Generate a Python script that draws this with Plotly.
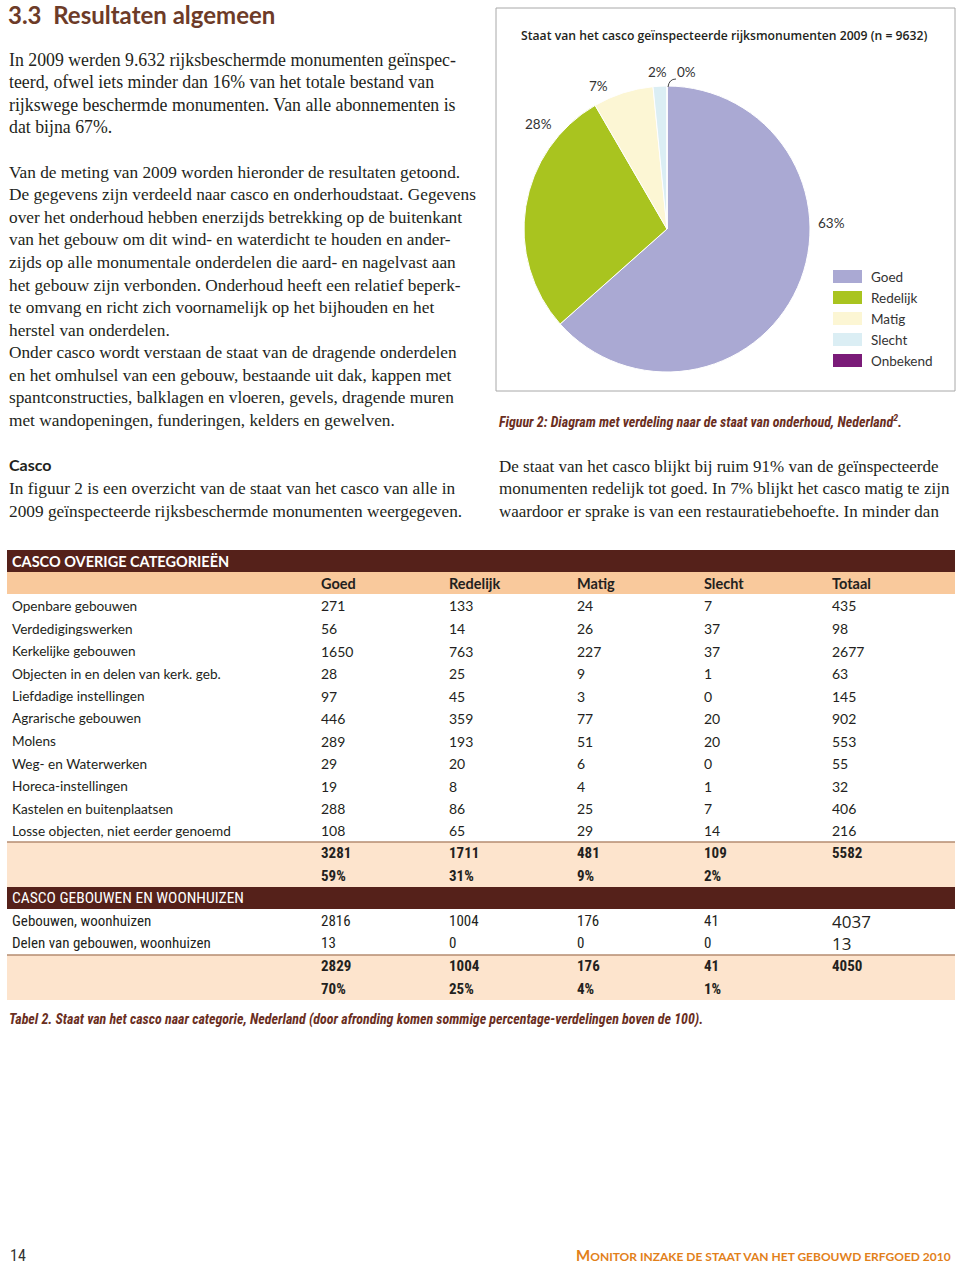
import plotly.graph_objects as go

W, H = 960, 1266

# ---------------- data ----------------
pie_labels = ["Goed", "Redelijk", "Matig", "Slecht", "Onbekend"]
pie_values = [6110, 2715, 657, 150, 0]
pie_colors = ["#aaa9d3", "#a9c41f", "#fcf6d4", "#dbeef4", "#7a1b78"]

columns = ["Goed", "Redelijk", "Matig", "Slecht", "Totaal"]

cat_overig = ["Openbare gebouwen", "Verdedigingswerken", "Kerkelijke gebouwen",
              "Objecten in en delen van kerk. geb.", "Liefdadige instellingen",
              "Agrarische gebouwen", "Molens", "Weg- en Waterwerken",
              "Horeca-instellingen", "Kastelen en buitenplaatsen",
              "Losse objecten, niet eerder genoemd"]
ov_goed = [271, 56, 1650, 28, 97, 446, 289, 29, 19, 288, 108]
ov_redelijk = [133, 14, 763, 25, 45, 359, 193, 20, 8, 86, 65]
ov_matig = [24, 26, 227, 9, 3, 77, 51, 6, 4, 25, 29]
ov_slecht = [7, 37, 37, 1, 0, 20, 20, 0, 1, 7, 14]
ov_totaal = [435, 98, 2677, 63, 145, 902, 553, 55, 32, 406, 216]
ov_sum = [3281, 1711, 481, 109, 5582]
ov_pct = ["59%", "31%", "9%", "2%", ""]

cat_geb = ["Gebouwen, woonhuizen", "Delen van gebouwen, woonhuizen"]
gb_goed = [2816, 13]
gb_redelijk = [1004, 0]
gb_matig = [176, 0]
gb_slecht = [41, 0]
gb_totaal = [4037, 13]
gb_sum = [2829, 1004, 176, 41, 4050]
gb_pct = ["70%", "25%", "4%", "1%", ""]

# ---------------- helpers ----------------
def px(x):
    return x / W


def py(y):
    return 1 - y / H


SERIF = "Liberation Serif, DejaVu Serif, serif"
SANS = "Lato, Open Sans, sans-serif"
OPEN = "Open Sans, Noto Sans, sans-serif"
NARROW = "Liberation Sans Narrow, Roboto Condensed, Liberation Sans, sans-serif"
TXT = "#231f20"
BROWN = "#6b2f1f"

annotations = []
shapes = []


def text(x, y, s, size=16, family=SERIF, color=TXT, weight=400, anchor="left", italic=False):
    annotations.append(dict(
        x=px(x), y=py(y), xref="paper", yref="paper", text=s, showarrow=False,
        xanchor=anchor, yanchor="middle", align=anchor,
        font=dict(size=size, family=family, color=color, weight=weight,
                  style="italic" if italic else "normal"),
    ))


def rect(x0, y0, x1, y1, fill, line=None, lw=0):
    shapes.append(dict(type="rect", xref="paper", yref="paper",
                       x0=px(x0), x1=px(x1), y0=py(y1), y1=py(y0),
                       fillcolor=fill, line=dict(color=line or fill, width=lw),
                       layer="below"))


def hline(x0, x1, y, color, w=1):
    shapes.append(dict(type="line", xref="paper", yref="paper",
                       x0=px(x0), x1=px(x1), y0=py(y), y1=py(y),
                       line=dict(color=color, width=w)))


# ---------------- left column text ----------------
text(6, 14, "3.3  Resultaten algemeen", size=24, family=SANS, color="#6d3b28", weight=700)

para1 = ["In 2009 werden 9.632 rijksbeschermde monumenten geïnspec-",
         "teerd, ofwel iets minder dan 16% van het totale bestand van",
         "rijkswege beschermde monumenten. Van alle abonnementen is",
         "dat bijna 67%."]
for i, s in enumerate(para1):
    text(7, 60 + i * 22.5, s, size=17.8)

para2 = ["Van de meting van 2009 worden hieronder de resultaten getoond.",
         "De gegevens zijn verdeeld naar casco en onderhoudstaat. Gegevens",
         "over het onderhoud hebben enerzijds betrekking op de buitenkant",
         "van het gebouw om dit wind- en waterdicht te houden en ander-",
         "zijds op alle monumentale onderdelen die aard- en nagelvast aan",
         "het gebouw zijn verbonden. Onderhoud heeft een relatief beperk-",
         "te omvang en richt zich voornamelijk op het bijhouden en het",
         "herstel van onderdelen.",
         "Onder casco wordt verstaan de staat van de dragende onderdelen",
         "en het omhulsel van een gebouw, bestaande uit dak, kappen met",
         "spantconstructies, balklagen en vloeren, gevels, dragende muren",
         "met wandopeningen, funderingen, kelders en gewelven."]
for i, s in enumerate(para2):
    text(7, 172.5 + i * 22.5, s, size=17.3)

text(7, 465, "Casco", size=16, family=SANS, weight=700)
text(7, 488, "In figuur 2 is een overzicht van de staat van het casco van alle in", size=17.3)
text(7, 511, "2009 geïnspecteerde rijksbeschermde monumenten weergegeven.", size=17.3)

right = ["De staat van het casco blijkt bij ruim 91% van de geïnspecteerde",
         "monumenten redelijk tot goed. In 7% blijkt het casco matig te zijn",
         "waardoor er sprake is van een restauratiebehoefte. In minder dan"]
for i, s in enumerate(right):
    text(497, 466 + i * 22.5, s, size=17)

# ---------------- pie chart box ----------------
rect(496, 8, 955, 391, "rgba(0,0,0,0)", line="#a8a8a8", lw=1)
text(724, 36, "Staat van het casco geïnspecteerde rijksmonumenten 2009 (n = 9632)",
     size=12.2, family=OPEN, weight=600, anchor="center")

total = sum(pie_values)
pct_text = [f"{round(v / total * 100)}%" for v in pie_values]
label_pos = [(831, 223), (538, 124), (598, 86), (657, 72), (686, 72)]
for (lx, ly), t in zip(label_pos, pct_text):
    text(lx, ly, t, size=13.5, family=SANS, color="#333333", anchor="center")
# leader line for the 0% label
shapes.append(dict(type="path", xref="paper", yref="paper",
                   path=f"M {px(668)},{py(87)} Q {px(669)},{py(79)} {px(676)},{py(79)}",
                   line=dict(color="#444444", width=1)))

leg_y = [277, 298, 319, 340, 361]
for lbl, col, yy in zip(pie_labels, pie_colors, leg_y):
    rect(833, yy - 7, 862, yy + 6, col)
    text(869, yy, lbl, size=13.5, family=SANS, color="#333333")

text(497, 421, "Figuur 2: Diagram met verdeling naar de staat van onderhoud, Nederland<sup>2</sup>.",
     size=14, family=NARROW, color=BROWN, weight=700, italic=True)

# ---------------- table ----------------
col_x = [319, 447, 575, 702, 830]
DARK = "#55211a"
PEACH = "#f9c99c"
LIGHT = "#fde4cd"
LINE = "#b48d70"

rect(7, 550, 955, 572, DARK)
text(10, 561, "CASCO OVERIGE CATEGORIEËN", size=14.5, family=SANS, color="white", weight=700)
rect(7, 572, 955, 594, PEACH)
for x, c in zip(col_x, columns):
    text(x, 583, c, size=14.5, family=SANS, weight=700)

rows1 = list(zip(cat_overig, ov_goed, ov_redelijk, ov_matig, ov_slecht, ov_totaal))
for i, r in enumerate(rows1):
    y = 606 + i * 22.5
    text(10, y, r[0], size=13.6, family=SANS)
    for x, v in zip(col_x, r[1:]):
        text(x, y, str(v), size=14, family=SANS)

rect(7, 842, 955, 887, LIGHT)
hline(7, 955, 842, LINE, 1.5)
for x, v, p in zip(col_x, ov_sum, ov_pct):
    text(x, 853, str(v), size=15, family=NARROW, weight=700)
    if p:
        text(x, 876, p, size=15, family=NARROW, weight=700)

rect(7, 887, 955, 909, DARK)
text(10, 898, "CASCO GEBOUWEN EN WOONHUIZEN", size=15.5, family=NARROW, color="white", weight=400)

rows2 = list(zip(cat_geb, gb_goed, gb_redelijk, gb_matig, gb_slecht, gb_totaal))
for i, r in enumerate(rows2):
    y = 921 + i * 22.5
    text(10, y, r[0], size=15, family=NARROW)
    for j, (x, v) in enumerate(zip(col_x, r[1:])):
        if j == 4:
            text(x, y, str(v), size=17, family=OPEN)
        else:
            text(x, y, str(v), size=15, family=NARROW)

rect(7, 955, 955, 1000, LIGHT)
hline(7, 955, 955, LINE, 1.5)
for x, v, p in zip(col_x, gb_sum, gb_pct):
    text(x, 966, str(v), size=15, family=NARROW, weight=700)
    if p:
        text(x, 989, p, size=15, family=NARROW, weight=700)

text(7, 1019, "Tabel 2. Staat van het casco naar categorie, Nederland (door afronding komen sommige percentage-verdelingen boven de 100).",
     size=14, family=NARROW, color=BROWN, weight=700, italic=True)

# ---------------- footer ----------------
text(8, 1255, "14", size=16, family=NARROW, color="#333333")
text(953, 1255, "<span style='font-size:15px'>M</span>ONITOR INZAKE DE STAAT VAN HET GEBOUWD ERFGOED 2010",
     size=12, family=SANS, color="#e2801a", weight=700, anchor="right")

# ---------------- figure ----------------
cx, cy, r = 667, 229, 143
fig = go.Figure(go.Pie(
    labels=pie_labels, values=pie_values, sort=False, direction="clockwise",
    rotation=0, marker=dict(colors=pie_colors, line=dict(color="white", width=1)),
    textinfo="none", hoverinfo="label+value+percent", showlegend=False,
    domain=dict(x=[px(cx - r), px(cx + r)], y=[py(cy + r), py(cy - r)]),
))

fig.update_layout(
    width=W, height=H, margin=dict(l=0, r=0, t=0, b=0),
    paper_bgcolor="white", plot_bgcolor="white",
    annotations=annotations, shapes=shapes, showlegend=False,
)

fig.write_html(
    "out.html",
    config={"displayModeBar": False},
    post_script="document.body.style.margin='0';document.body.style.overflow='hidden';",
)
